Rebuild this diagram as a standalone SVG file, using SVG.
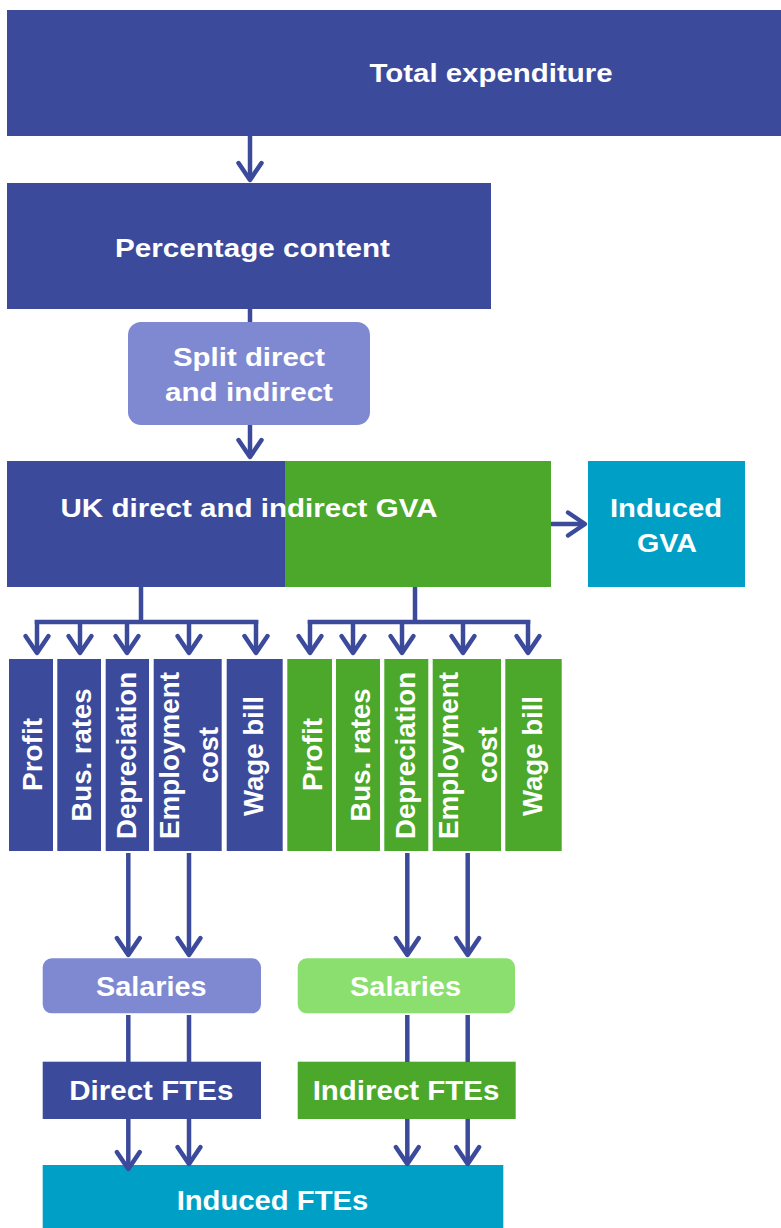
<svg xmlns="http://www.w3.org/2000/svg" width="781" height="1228" viewBox="0 0 781 1228">
<defs>
<style>
.t{font-family:"Liberation Sans",Arial,Helvetica,sans-serif;font-weight:bold;fill:#ffffff;text-anchor:middle;}
.r{font-size:28px;}
.blue{fill:#3C4A9C;}
.green{fill:#4BA82A;}
.lblue{fill:#7F89D1;}
.lgreen{fill:#8ADF6E;}
.cyan{fill:#00A0C6;}
.c{fill:none;stroke:#3C4A9C;stroke-width:4.5;}
.a{marker-end:url(#ah);}
</style>
<marker id="ah" markerUnits="userSpaceOnUse" viewBox="-20 -14 24 28" markerWidth="24" markerHeight="28" refX="0" refY="0" orient="auto" overflow="visible">
<path d="M-17,-11.5 L0,0 L-17,11.5" fill="none" stroke="#3C4A9C" stroke-width="4.5" stroke-linejoin="round" stroke-linecap="round"/>
</marker>
</defs>
<rect width="781" height="1228" fill="#ffffff"/>

<g id="total-expenditure">
<rect class="blue" x="7" y="10" width="774" height="126"/>
<text class="t" x="491" y="82" font-size="25" textLength="243" lengthAdjust="spacingAndGlyphs">Total expenditure</text>
</g>

<g id="percentage-content">
<rect class="blue" x="7" y="183" width="484" height="126"/>
<text class="t" x="252.5" y="256.7" font-size="26" textLength="275" lengthAdjust="spacingAndGlyphs">Percentage content</text>
</g>

<g id="split">
<rect class="lblue" x="128" y="322" width="242" height="103" rx="13"/>
<text class="t" x="249" y="366" font-size="26" textLength="152" lengthAdjust="spacingAndGlyphs">Split direct</text>
<text class="t" x="249" y="401" font-size="26" textLength="168" lengthAdjust="spacingAndGlyphs">and indirect</text>
</g>

<g id="uk-gva">
<rect class="blue" x="7" y="461" width="278" height="126"/>
<rect class="green" x="285" y="461" width="266" height="126"/>
<text class="t" x="249" y="517.3" font-size="26" textLength="377" lengthAdjust="spacingAndGlyphs">UK direct and indirect GVA</text>
</g>

<g id="induced-gva">
<rect class="cyan" x="588" y="461" width="157" height="126"/>
<text class="t" x="666" y="517" font-size="26" textLength="112" lengthAdjust="spacingAndGlyphs">Induced</text>
<text class="t" x="667" y="552" font-size="26" textLength="60" lengthAdjust="spacingAndGlyphs">GVA</text>
</g>

<g id="direct-profit">
<rect class="blue" x="9" y="659" width="44" height="192"/>
<text class="t r" transform="translate(42,754.5) rotate(-90)" textLength="73" lengthAdjust="spacingAndGlyphs">Profit</text>
</g>
<g id="direct-bus-rates">
<rect class="blue" x="57.3" y="659" width="43.7" height="192"/>
<text class="t r" transform="translate(90.5,755) rotate(-90)" textLength="133" lengthAdjust="spacingAndGlyphs">Bus. rates</text>
</g>
<g id="direct-depreciation">
<rect class="blue" x="105.7" y="659" width="43.3" height="192"/>
<text class="t r" transform="translate(136,755.5) rotate(-90)" textLength="167" lengthAdjust="spacingAndGlyphs">Depreciation</text>
</g>
<g id="direct-employment-cost">
<rect class="blue" x="153.7" y="659" width="68" height="192"/>
<text class="t r" transform="translate(179,755.5) rotate(-90)" textLength="167" lengthAdjust="spacingAndGlyphs">Employment</text>
<text class="t r" transform="translate(218.3,755) rotate(-90)" textLength="56" lengthAdjust="spacingAndGlyphs">cost</text>
</g>
<g id="direct-wage-bill">
<rect class="blue" x="226.7" y="659" width="56" height="192"/>
<text class="t r" transform="translate(263,756) rotate(-90)" textLength="120" lengthAdjust="spacingAndGlyphs">Wage bill</text>
</g>

<g id="indirect-profit">
<rect class="green" x="287.3" y="659" width="44.7" height="192"/>
<text class="t r" transform="translate(321.5,754.5) rotate(-90)" textLength="73" lengthAdjust="spacingAndGlyphs">Profit</text>
</g>
<g id="indirect-bus-rates">
<rect class="green" x="336" y="659" width="44" height="192"/>
<text class="t r" transform="translate(369.5,755) rotate(-90)" textLength="133" lengthAdjust="spacingAndGlyphs">Bus. rates</text>
</g>
<g id="indirect-depreciation">
<rect class="green" x="384.3" y="659" width="44" height="192"/>
<text class="t r" transform="translate(415,755.5) rotate(-90)" textLength="167" lengthAdjust="spacingAndGlyphs">Depreciation</text>
</g>
<g id="indirect-employment-cost">
<rect class="green" x="432.7" y="659" width="68.3" height="192"/>
<text class="t r" transform="translate(457.5,755.5) rotate(-90)" textLength="167" lengthAdjust="spacingAndGlyphs">Employment</text>
<text class="t r" transform="translate(497.3,755) rotate(-90)" textLength="56" lengthAdjust="spacingAndGlyphs">cost</text>
</g>
<g id="indirect-wage-bill">
<rect class="green" x="505.3" y="659" width="56.4" height="192"/>
<text class="t r" transform="translate(542,756) rotate(-90)" textLength="120" lengthAdjust="spacingAndGlyphs">Wage bill</text>
</g>

<g id="salaries-direct">
<rect class="lblue" x="42.7" y="958.3" width="218.3" height="55" rx="9"/>
<text class="t" x="151.3" y="996" font-size="27" textLength="110.7" lengthAdjust="spacingAndGlyphs">Salaries</text>
</g>
<g id="salaries-indirect">
<rect class="lgreen" x="297.7" y="958.3" width="217.3" height="55" rx="9"/>
<text class="t" x="405.5" y="996" font-size="27" textLength="111" lengthAdjust="spacingAndGlyphs">Salaries</text>
</g>

<g id="direct-ftes">
<rect class="blue" x="42.7" y="1061.7" width="218.3" height="57.3"/>
<text class="t" x="151.3" y="1100" font-size="27" textLength="164" lengthAdjust="spacingAndGlyphs">Direct FTEs</text>
</g>
<g id="indirect-ftes">
<rect class="green" x="297.7" y="1061.7" width="218" height="57.3"/>
<text class="t" x="406" y="1100" font-size="27" textLength="186.7" lengthAdjust="spacingAndGlyphs">Indirect FTEs</text>
</g>

<g id="induced-ftes">
<rect class="cyan" x="42.7" y="1165" width="460.6" height="63"/>
<text class="t" x="272.5" y="1210" font-size="27" textLength="191.7" lengthAdjust="spacingAndGlyphs">Induced FTEs</text>
</g>

<g id="connectors">
<line class="c a" x1="250" y1="136" x2="250" y2="180"/>
<line class="c" x1="250" y1="309" x2="250" y2="322"/>
<line class="c a" x1="250" y1="425" x2="250" y2="457"/>
<line class="c a" x1="551" y1="524" x2="585" y2="524"/>

<line class="c" x1="141" y1="587" x2="141" y2="622"/>
<path class="c" d="M37,624 V622 H256 V624"/>
<line class="c a" x1="37" y1="620" x2="37" y2="653"/>
<line class="c a" x1="80" y1="620" x2="80" y2="653"/>
<line class="c a" x1="127" y1="620" x2="127" y2="653"/>
<line class="c a" x1="189" y1="620" x2="189" y2="653"/>
<line class="c a" x1="256" y1="620" x2="256" y2="653"/>

<line class="c" x1="415" y1="587" x2="415" y2="622"/>
<path class="c" d="M310,624 V622 H528 V624"/>
<line class="c a" x1="310" y1="620" x2="310" y2="653"/>
<line class="c a" x1="353" y1="620" x2="353" y2="653"/>
<line class="c a" x1="402" y1="620" x2="402" y2="653"/>
<line class="c a" x1="463" y1="620" x2="463" y2="653"/>
<line class="c a" x1="528" y1="620" x2="528" y2="653"/>

<line class="c a" x1="128.3" y1="853" x2="128.3" y2="955"/>
<line class="c a" x1="189" y1="853" x2="189" y2="955"/>
<line class="c a" x1="407.3" y1="853" x2="407.3" y2="955"/>
<line class="c a" x1="467.7" y1="853" x2="467.7" y2="955"/>

<line class="c" x1="128.3" y1="1015" x2="128.3" y2="1062"/>
<line class="c" x1="189" y1="1015" x2="189" y2="1062"/>
<line class="c" x1="407.3" y1="1015" x2="407.3" y2="1062"/>
<line class="c" x1="467.7" y1="1015" x2="467.7" y2="1062"/>

<line class="c a" x1="128.3" y1="1119" x2="128.3" y2="1169"/>
<line class="c a" x1="189" y1="1119" x2="189" y2="1164"/>
<line class="c a" x1="407.3" y1="1119" x2="407.3" y2="1164"/>
<line class="c a" x1="467.7" y1="1119" x2="467.7" y2="1164"/>
</g>
</svg>
